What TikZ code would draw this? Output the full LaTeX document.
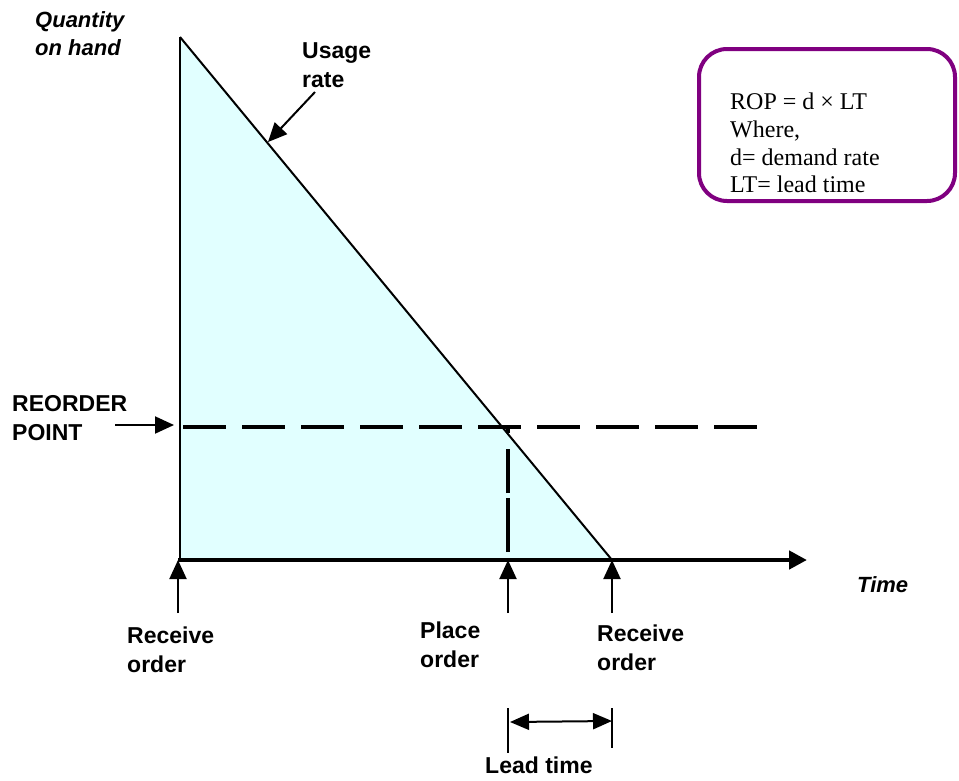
\documentclass[tikz,border=0pt]{standalone}
\usepackage{fontspec}
\setmainfont{Liberation Sans}
\newfontfamily\serifnote{Liberation Serif}
\usepackage{tikz}
\usetikzlibrary{arrows.meta,positioning}
\definecolor{stockfill}{HTML}{E1FFFF}
\definecolor{notepurple}{HTML}{800080}

\begin{document}
\begin{tikzpicture}[x=1pt,y=-1pt,
    lbl/.style={font=\fontsize{23}{29}\selectfont\bfseries,align=left,inner sep=0pt,anchor=north west},
    ilbl/.style={lbl,font=\fontsize{22}{28}\selectfont\bfseries\itshape},
    pointer/.style={line width=2pt,-{Triangle[length=19pt,width=17pt]}},
    reorder/.style={line width=4.5pt,dash pattern=on 43pt off 16pt}]
  \useasboundingbox (0,0) rectangle (959,780);
   \coordinate (Top) at (180,37);
   \coordinate (Origin) at (180,560);
   \coordinate (AxisStart) at (178,560);
   \coordinate (Empty) at (612,560);
   \coordinate (AxisEnd) at (807,560);
   \coordinate (RopStart) at (183,427);
   \coordinate (RopEnd) at (757,427);
   \coordinate (Cross) at (508,427);
   \coordinate (CrossFoot) at (508,552);
  % stock triangle
  \fill[stockfill] (Top) -- (Origin) -- (Empty) -- cycle;
  \draw[line width=2pt] (Top) -- (Origin);
  \draw[line width=2pt] (Top) -- (Empty);
  \draw[reorder] (RopStart) -- (RopEnd);
  \draw[line width=4.5pt,dash pattern=on 54pt off 5pt on 44pt off 16pt] (CrossFoot) -- (Cross);
  \draw[line width=4.5pt,-{Triangle[length=18pt,width=18pt]}] (AxisStart) -- (AxisEnd);

  % labels
  \node[ilbl] (qtylabel) at (35,11) {Quantity\\on hand};
  \node[ilbl] (timelabel) at (857,576) {Time};
  \node[lbl] (usagelabel) at (302,42) {Usage\\rate};
  \node[lbl] (reorderlabel) at (12,395) {REORDER\\POINT};
  \node[lbl] (rcvleft) at (127,627) {Receive\\order};
  \node[lbl] (placelabel) at (420,622) {Place\\order};
  \node[lbl] (rcvright) at (597,625) {Receive\\order};
  \node[lbl] (leadlabel) at (485,757) {Lead time};

   \coordinate (UsageTail) at (315,92);
   \coordinate (UsageTip) at (268,142);
   \coordinate (RopTail) at (115,425);
   \coordinate (RopTip) at (174,425);
  \draw[pointer] (UsageTail) -- (UsageTip);
  \draw[pointer] (RopTail) -- (RopTip);
  \foreach \name/\x in {recvA/178,place/508,recvB/612}{% one arrow under each order point
    \coordinate (\name Tail) at (\x,613);
    \coordinate (\name Tip) at (\x,560);
    \draw[pointer] (\name Tail) -- (\name Tip);
  }

  % lead time bracket
   \coordinate (LeadA) at (508,708);
   \coordinate (LeadAEnd) at (508,753);
   \coordinate (LeadB) at (612,708);
   \coordinate (LeadBEnd) at (612,748);
  \draw[line width=2pt] (LeadA) -- (LeadAEnd);
  \draw[line width=2pt] (LeadB) -- (LeadBEnd);
   \coordinate (SpanA) at (510,722);
   \coordinate (SpanB) at (612,721);
  \draw[line width=2pt,{Triangle[length=19pt,width=16pt]}-{Triangle[length=19pt,width=16pt]}] (SpanA) -- (SpanB);

  % formula box
  \draw[notepurple,line width=4pt,rounded corners=28pt] (699,49) rectangle (955,201);
  \node[inner sep=0pt,anchor=north west,align=left,font=\serifnote\fontsize{24}{27.7}\selectfont] (ropnote) at (730,93)
    {ROP = d × LT\\Where,\\d= demand rate\\LT= lead time};
\end{tikzpicture}
\end{document}
